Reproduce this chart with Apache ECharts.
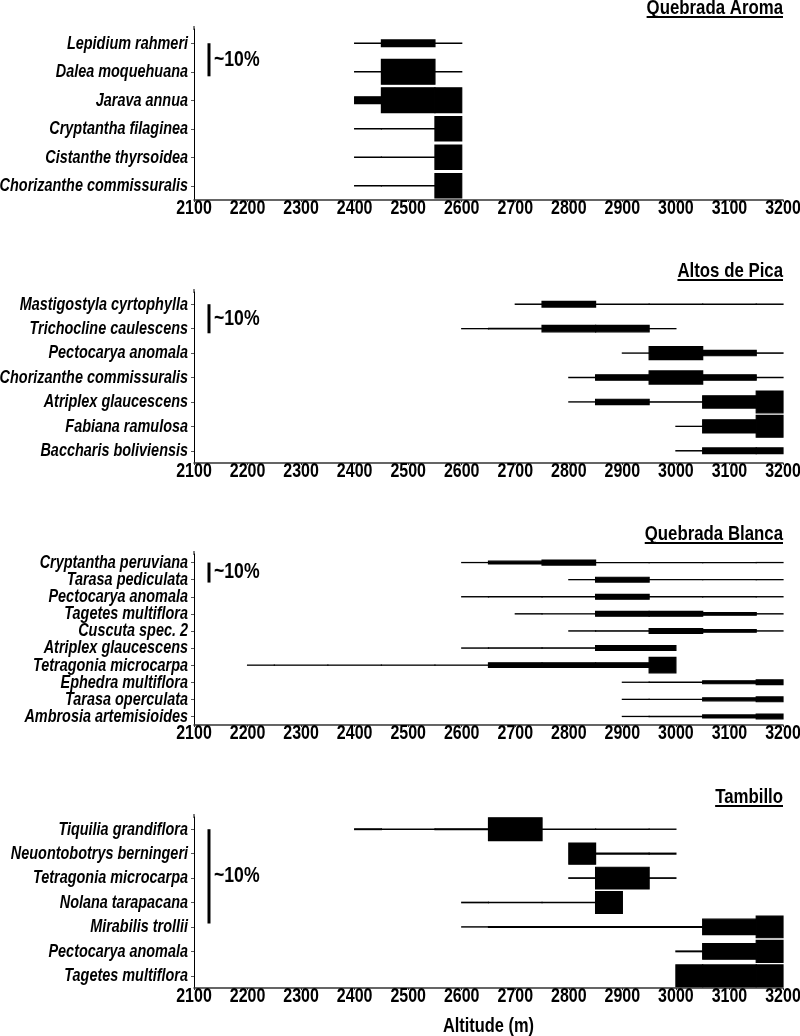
<!DOCTYPE html>
<html>
<head>
<meta charset="utf-8">
<script src="https://cdn.jsdelivr.net/npm/echarts@6/dist/echarts.min.js"></script>
<style>
html,body{margin:0;padding:0;background:#fff;}
#chart{width:800px;height:1036px;}
</style>
</head>
<body>
<div id="chart"></div>
<script>
// ---------- DATA ----------
const panelTitles = ['Quebrada Aroma', 'Altos de Pica', 'Quebrada Blanca', 'Tambillo'];
const altMin = 2100, altMax = 3200, altStep = 100;
const xTickLabels = [2100, 2200, 2300, 2400, 2500, 2600, 2700, 2800, 2900, 3000, 3100, 3200];
const axisTitle = 'Altitude (m)';

// Quebrada Aroma
const aromaSpecies = ['Lepidium rahmeri', 'Dalea moquehuana', 'Jarava annua', 'Cryptantha filaginea', 'Cistanthe thyrsoidea', 'Chorizanthe commissuralis'];
const aromaStart = [2400, 2400, 2400, 2400, 2400, 2400];
const aromaValues = [
  [0.1, 2.0, 0.1],
  [0.1, 7.5, 0.1],
  [2.1, 7.5, 7.5],
  [0.1, 0.1, 7.4],
  [0.1, 0.1, 7.4],
  [0.1, 0.1, 7.4]
];

// Altos de Pica
const picaSpecies = ['Mastigostyla cyrtophylla', 'Trichocline caulescens', 'Pectocarya anomala', 'Chorizanthe commissuralis', 'Atriplex glaucescens', 'Fabiana ramulosa', 'Baccharis boliviensis'];
const picaStart = [2700, 2600, 2900, 2800, 2800, 3000, 3000];
const picaValues = [
  [0.1, 2.0, 0.1, 0.1, 0.1, 0.1],
  [0.05, 0.15, 2.2, 2.2, 0.05],
  [0.05, 4.5, 1.85, 0.1],
  [0.1, 1.85, 4.5, 1.85, 0.1],
  [0.05, 1.85, 0.1, 4.2, 7.5],
  [0.05, 4.5, 7.5],
  [0.1, 2.0, 2.0]
];

// Quebrada Blanca
const blancaSpecies = ['Cryptantha peruviana', 'Tarasa pediculata', 'Pectocarya anomala', 'Tagetes multiflora', 'Cuscuta spec. 2', 'Atriplex glaucescens', 'Tetragonia microcarpa', 'Ephedra multiflora', 'Tarasa operculata', 'Ambrosia artemisioides'];
const blancaStart = [2600, 2800, 2600, 2700, 2800, 2600, 2200, 2900, 2900, 2900];
const blancaValues = [
  [0.05, 1.4, 2.5, 0.05, 0.05, 0.05, 0.05],
  [0.05, 2.4, 0.05, 0.05, 0.05],
  [0.1, 0.1, 0.1, 2.4, 0.1, 0.1, 0.1],
  [0.1, 0.1, 2.4, 2.4, 1.3, 0.1],
  [0.1, 0.1, 2.4, 1.3, 0.1],
  [0.1, 0.1, 0.1, 2.4, 2.4],
  [0.05, 0.05, 0.05, 0.05, 0.05, 2.3, 2.3, 2.3, 7.7],
  [0.05, 0.1, 1.5, 2.4],
  [0.05, 0.1, 1.5, 2.4],
  [0.05, 0.1, 1.5, 2.4]
];

// Tambillo
const tambilloSpecies = ['Tiquilia grandiflora', 'Neuontobotrys berningeri', 'Tetragonia microcarpa', 'Nolana tarapacana', 'Mirabilis trollii', 'Pectocarya anomala', 'Tagetes multiflora'];
const tambilloStart = [2400, 2800, 2800, 2600, 2600, 3000, 3000];
const tambilloValues = [
  [0.08, 0.02, 0.08, 2.43, 0.05, 0.05, 0.02],
  [2.25, 0.1, 0.1],
  [0.05, 2.3, 0.05],
  [0.05, 0.05, 0.05, 2.3],
  [0.02, 0.08, 0.08, 0.08, 0.08, 1.65, 2.3],
  [0.08, 1.65, 2.35],
  [2.3, 2.3, 2.3]
];

const scaleBarValue = 10;     // the "~10%" reference bar
const scaleBarAlt = 2128;

// ---------- LAYOUT / STYLE ----------
const panels = [
  {species: aromaSpecies, start: aromaStart, values: aromaValues, top: 29, titleY: 8, rowsPer10: 1.16},
  {species: picaSpecies, start: picaStart, values: picaValues, top: 292, titleY: 271, rowsPer10: 1.19},
  {species: blancaSpecies, start: blancaStart, values: blancaValues, top: 554, titleY: 534, rowsPer10: 1.17},
  {species: tambilloSpecies, start: tambilloStart, values: tambilloValues, top: 817, titleY: 797, rowsPer10: 3.86}
];
const gridLeft = 194, gridWidth = 589, gridHeight = 171;
const FONT = '"Liberation Sans", Arial, sans-serif';
const NARROW = 0.82;          // horizontal condensing of all text (narrow bold look)
const TITLE_SIZE = 20.5, TICK_SIZE = 19.5, SPECIES_SIZE = 17.6, SCALE_SIZE = 21.5, AXIS_TITLE_SIZE = 20;

function buildData(p) {
  const out = [];
  p.values.forEach((vals, row) => {
    const s = p.start[row];
    const e = s + altStep * (vals.length - 1);
    vals.forEach((v, i) => {
      const a = s + altStep * i;
      const x0 = Math.max(a - altStep / 2, s);
      const x1 = Math.min(a + altStep / 2, e);
      out.push([x0, x1, row, v]);
    });
  });
  return out;
}

const grids = [], xAxes = [], yAxes = [], series = [], graphics = [];
const mctx = document.createElement('canvas').getContext('2d');

panels.forEach((p, k) => {
  const n = p.species.length;
  grids.push({left: gridLeft, width: gridWidth, top: p.top, height: gridHeight, containLabel: false, outerBoundsMode: 'none'});
  xAxes.push({
    type: 'value', gridIndex: k, min: altMin, max: altMax, interval: altStep,
    axisLine: {show: true, lineStyle: {color: '#333', width: 1.5}},
    axisTick: {show: true, length: 2, lineStyle: {color: '#333'}},
    axisLabel: {show: false},
    splitLine: {show: false}
  });
  yAxes.push({
    type: 'category', gridIndex: k, data: p.species, inverse: true,
    axisLine: {show: true, lineStyle: {color: '#000', width: 1}},
    axisTick: {show: true, length: 3, alignWithLabel: true, lineStyle: {color: '#555'}},
    axisLabel: {show: false},
    splitLine: {show: false}
  });
  const factor = p.rowsPer10;
  // kite blocks
  series.push({
    type: 'custom', xAxisIndex: k, yAxisIndex: k,
    data: buildData(p),
    encode: {x: [0, 1], y: 2},
    silent: true,
    renderItem: function (params, api) {
      const x0 = api.value(0), x1 = api.value(1), r = api.value(2), v = api.value(3);
      const p0 = api.coord([x0, r]), p1 = api.coord([x1, r]);
      const band = api.size([0, 1])[1];
      const h = v / 10 * factor * band;
      return {
        type: 'rect',
        shape: {x: p0[0], y: p0[1] - h / 2, width: p1[0] - p0[0], height: h},
        style: {fill: '#000', stroke: '#000', lineWidth: 1.2}
      };
    }
  });
  // species labels (condensed bold italic)
  series.push({
    type: 'custom', xAxisIndex: k, yAxisIndex: k,
    data: p.species.map((s, i) => [altMin, i]),
    encode: {x: 0, y: 1},
    silent: true, clip: false,
    renderItem: function (params, api) {
      const r = api.value(1);
      const pt = api.coord([api.value(0), r]);
      return {
        type: 'text', x: pt[0] - 6, y: pt[1] + 0.5, scaleX: NARROW,
        style: {text: p.species[r], x: 0, y: 0, fill: '#000', fontSize: SPECIES_SIZE,
          fontWeight: 'bold', fontStyle: 'italic', fontFamily: FONT,
          align: 'right', verticalAlign: 'middle', textAlign: 'right', textVerticalAlign: 'middle'}
      };
    }
  });
  // x tick labels
  series.push({
    type: 'custom', xAxisIndex: k, yAxisIndex: k,
    data: xTickLabels.map(t => [t, n - 1]),
    encode: {x: 0, y: 1},
    silent: true, clip: false,
    renderItem: function (params, api) {
      const t = api.value(0);
      const pt = api.coord([t, api.value(1)]);
      const band = api.size([0, 1])[1];
      return {
        type: 'text', x: pt[0], y: pt[1] + band / 2 + 8.5, scaleX: NARROW,
        style: {text: String(t), x: 0, y: 0, fill: '#000', fontSize: TICK_SIZE,
          fontWeight: 'bold', fontFamily: FONT,
          align: 'center', verticalAlign: 'middle', textAlign: 'center', textVerticalAlign: 'middle'}
      };
    }
  });
  // scale bar + slight upward extension of the y axis line
  series.push({
    type: 'custom', xAxisIndex: k, yAxisIndex: k,
    data: [[scaleBarAlt, 0, scaleBarValue]],
    encode: {x: 0, y: 1},
    silent: true, clip: false,
    renderItem: function (params, api) {
      const a = api.value(0), r = api.value(1), v = api.value(2);
      const pt = api.coord([a, r]);
      const band = api.size([0, 1])[1];
      const h = v / 10 * factor * band;
      const ax = api.coord([altMin, r]);
      return {
        type: 'group',
        children: [
          {type: 'line', shape: {x1: ax[0], y1: ax[1] - band / 2 - 3, x2: ax[0], y2: ax[1] - band / 2 + 1}, style: {stroke: '#000', lineWidth: 1}},
          {type: 'line', shape: {x1: pt[0], y1: pt[1], x2: pt[0], y2: pt[1] + h}, style: {stroke: '#000', lineWidth: 3}},
          {type: 'text', x: pt[0] + 5, y: pt[1] + h / 2, scaleX: NARROW,
            style: {text: '~' + v + '%', x: 0, y: 0,
            fill: '#000', fontSize: SCALE_SIZE, fontWeight: 'bold', fontFamily: FONT,
            align: 'left', verticalAlign: 'middle', textAlign: 'left', textVerticalAlign: 'middle'}}
        ]
      };
    }
  });
  // title with underline
  mctx.font = 'bold ' + TITLE_SIZE + 'px ' + FONT;
  const tw = mctx.measureText(panelTitles[k]).width * NARROW;
  const right = gridLeft + gridWidth;
  graphics.push({
    type: 'text', x: right, y: p.titleY, scaleX: NARROW,
    style: {text: panelTitles[k], x: 0, y: 0, fill: '#000', fontSize: TITLE_SIZE, fontWeight: 'bold', fontFamily: FONT,
      align: 'right', verticalAlign: 'middle', textAlign: 'right', textVerticalAlign: 'middle'}
  });
  graphics.push({
    type: 'rect', shape: {x: right - tw, y: p.titleY + 8, width: tw, height: 2},
    style: {fill: '#000'}
  });
});

graphics.push({
  type: 'text', x: gridLeft + gridWidth / 2, y: 1026, scaleX: NARROW,
  style: {text: axisTitle, x: 0, y: 0, fill: '#000', fontSize: AXIS_TITLE_SIZE, fontWeight: 'bold', fontFamily: FONT,
    align: 'center', verticalAlign: 'middle', textAlign: 'center', textVerticalAlign: 'middle'}
});

const chart = echarts.init(document.getElementById('chart'), null, {renderer: 'canvas'});
chart.setOption({
  backgroundColor: '#fff',
  animation: false,
  grid: grids,
  xAxis: xAxes,
  yAxis: yAxes,
  series: series,
  graphic: graphics
});
</script>
</body>
</html>
